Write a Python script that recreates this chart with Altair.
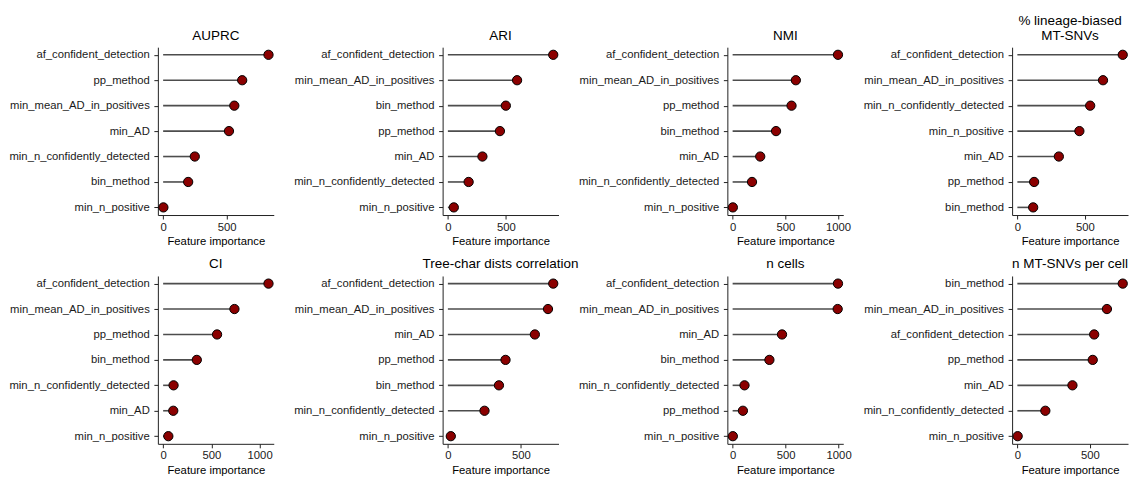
import altair as alt
import pandas as pd

FONT = "Liberation Sans"

# ---- data (features listed in display order, top to bottom) ----
AUPRC_FEATURES = ["af_confident_detection", "pp_method", "min_mean_AD_in_positives", "min_AD",
                  "min_n_confidently_detected", "bin_method", "min_n_positive"]
AUPRC_VALUES = [829, 622, 560, 518, 249, 197, 2]

ARI_FEATURES = ["af_confident_detection", "min_mean_AD_in_positives", "bin_method", "pp_method",
                "min_AD", "min_n_confidently_detected", "min_n_positive"]
ARI_VALUES = [909, 597, 500, 449, 298, 179, 51]

NMI_FEATURES = ["af_confident_detection", "min_mean_AD_in_positives", "pp_method", "bin_method",
                "min_AD", "min_n_confidently_detected", "min_n_positive"]
NMI_VALUES = [1000, 600, 559, 412, 262, 184, 2]

LINEAGE_FEATURES = ["af_confident_detection", "min_mean_AD_in_positives", "min_n_confidently_detected",
                    "min_n_positive", "min_AD", "pp_method", "bin_method"]
LINEAGE_VALUES = [780, 634, 539, 459, 307, 124, 117]

CI_FEATURES = ["af_confident_detection", "min_mean_AD_in_positives", "pp_method", "bin_method",
               "min_n_confidently_detected", "min_AD", "min_n_positive"]
CI_VALUES = [1092, 739, 559, 349, 108, 105, 54]

TREE_FEATURES = ["af_confident_detection", "min_mean_AD_in_positives", "min_AD", "pp_method",
                 "bin_method", "min_n_confidently_detected", "min_n_positive"]
TREE_VALUES = [722, 686, 596, 395, 350, 251, 20]

NCELLS_FEATURES = ["af_confident_detection", "min_mean_AD_in_positives", "min_AD", "bin_method",
                   "min_n_confidently_detected", "pp_method", "min_n_positive"]
NCELLS_VALUES = [994, 991, 466, 347, 112, 97, 2]

NSNV_FEATURES = ["bin_method", "min_mean_AD_in_positives", "af_confident_detection", "pp_method",
                 "min_AD", "min_n_confidently_detected", "min_n_positive"]
NSNV_VALUES = [727, 618, 530, 520, 380, 193, 2]

TITLES = ["AUPRC", "ARI", "NMI", ["% lineage-biased", "MT-SNVs"],
          "CI", "Tree-char dists correlation", "n cells", "n MT-SNVs per cell"]
FEATURE_LISTS = [AUPRC_FEATURES, ARI_FEATURES, NMI_FEATURES, LINEAGE_FEATURES,
                 CI_FEATURES, TREE_FEATURES, NCELLS_FEATURES, NSNV_FEATURES]
VALUE_LISTS = [AUPRC_VALUES, ARI_VALUES, NMI_VALUES, LINEAGE_VALUES,
               CI_VALUES, TREE_VALUES, NCELLS_VALUES, NSNV_VALUES]
TICK_CANDIDATES = [0, 500, 1000]

W, H = 116, 168


def panel(title, features, values):
    df = pd.DataFrame({"feature": features, "value": values, "zero": [0] * len(values)})
    vmax = max(values)
    lo, hi = -0.05 * vmax, 1.05 * vmax
    ticks = [t for t in TICK_CANDIDATES if t <= hi]
    xscale = alt.Scale(domain=[lo, hi], nice=False, zero=False)
    xaxis = alt.Axis(values=ticks, title="Feature importance", format="d")
    y = alt.Y("feature:N", sort=features,
              scale=alt.Scale(type="point", padding=0.3),
              axis=alt.Axis(title=None))
    rule = alt.Chart(df).mark_rule(color="#4d4d4d", strokeWidth=1.6).encode(
        x=alt.X("zero:Q", scale=xscale, axis=xaxis),
        x2="value:Q",
        y=y,
    )
    dot = alt.Chart(df).mark_circle(size=86, fill="#8B0000", stroke="black",
                                    strokeWidth=1, opacity=1).encode(
        x=alt.X("value:Q", scale=xscale, axis=xaxis),
        y=y,
    )
    return alt.layer(rule, dot).properties(
        width=W, height=H,
        title=alt.TitleParams(title, anchor="middle"),
    )


charts = [panel(t, f, v) for t, f, v in zip(TITLES, FEATURE_LISTS, VALUE_LISTS)]

chart = alt.concat(*charts, columns=4, spacing={"row": 61, "column": 169}, bounds="flush").properties(
    padding={"left": 0, "right": 0, "top": 5, "bottom": 0}
).configure_view(stroke=None).configure_axis(
    grid=False,
    domainColor="#222222",
    domainWidth=1,
    tickColor="#222222",
    tickSize=4,
    labelColor="#1a1a1a",
    labelFont=FONT,
    labelFontSize=11.3,
    titleFont=FONT,
    titleFontSize=11.3,
    titleFontWeight="normal",
    titleColor="black",
).configure_axisY(labelPadding=4.6).configure_axisX(labelPadding=2, titlePadding=3).configure_title(
    font=FONT, fontSize=13.5, fontWeight="normal", color="black", offset=5, lineHeight=15
)

chart.save("out.html", embed_options={"renderer": "svg", "actions": False})
